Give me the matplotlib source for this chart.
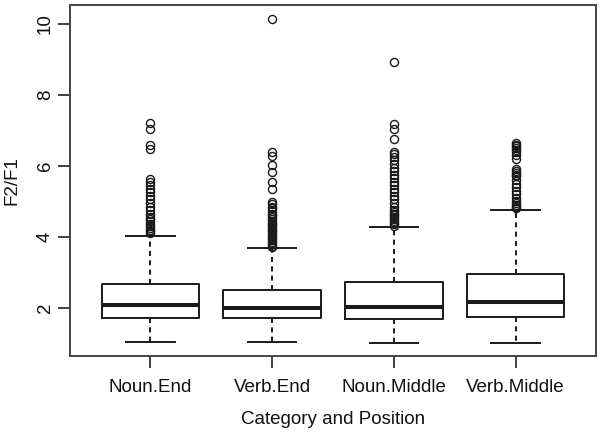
import matplotlib
matplotlib.use("Agg")
import matplotlib.pyplot as plt

plt.rcParams['font.family'] = ['Liberation Sans', 'DejaVu Sans']

categories = ["Noun.End", "Verb.End", "Noun.Middle", "Verb.Middle"]
q1 = [1.72, 1.72, 1.68, 1.74]
medians = [2.06, 2.00, 2.03, 2.15]
q3 = [2.66, 2.49, 2.72, 2.94]
whisker_low = [1.02, 1.04, 1.01, 1.01]
whisker_high = [4.03, 3.69, 4.26, 4.75]

outliers_noun_end = [7.21, 7.05, 6.58, 6.46, 5.62, 5.55, 5.45, 5.35, 5.25, 5.15, 5.05,
                     4.95, 4.85, 4.75, 4.65, 4.55, 4.50, 4.45, 4.35, 4.30, 4.25,
                     4.20, 4.15, 4.10]
outliers_verb_end = [10.15, 6.38, 6.28, 6.02, 5.82, 5.55, 5.35, 4.98, 4.92, 4.85,
                     4.80, 4.72, 4.65, 4.60, 4.55, 4.50, 4.45, 4.40, 4.35, 4.30,
                     4.25, 4.20, 4.15, 4.10, 4.05, 4.00, 3.95, 3.90, 3.85, 3.80,
                     3.75, 3.72]
outliers_noun_middle = [8.94, 7.19, 7.05, 6.75, 6.38, 6.32, 6.25, 6.15, 6.05, 5.95,
                        5.85, 5.75, 5.65, 5.55, 5.45, 5.35, 5.25, 5.15, 5.05, 4.95,
                        4.85, 4.75, 4.70, 4.65, 4.60, 4.55, 4.50, 4.45, 4.40, 4.35,
                        4.30]
outliers_verb_middle = [6.65, 6.60, 6.55, 6.50, 6.45, 6.40, 6.30, 6.20, 5.90, 5.85,
                        5.80, 5.75, 5.70, 5.60, 5.50, 5.40, 5.30, 5.20, 5.10, 5.00,
                        4.95, 4.90, 4.85, 4.80]
outliers = [outliers_noun_end, outliers_verb_end, outliers_noun_middle, outliers_verb_middle]

yticks = [2, 4, 6, 8, 10]

stats = []
for i, name in enumerate(categories):
    stats.append(dict(label=name, q1=q1[i], med=medians[i], q3=q3[i],
                      whislo=whisker_low[i], whishi=whisker_high[i],
                      fliers=outliers[i]))

fig = plt.figure(figsize=(6.02, 4.34), dpi=100)
ax = fig.add_axes([70/602, 1 - 356/434, 526/602, 351/434])

lc = '#1a1a1a'
ax.bxp(stats, positions=[1, 2, 3, 4], widths=0.8, showfliers=True,
       boxprops=dict(color=lc, linewidth=1.4),
       medianprops=dict(color=lc, linewidth=2.9, solid_capstyle='butt'),
       whiskerprops=dict(color=lc, linewidth=1.4, linestyle=(0, (2.6, 2.2))),
       capprops=dict(color=lc, linewidth=1.4),
       flierprops=dict(marker='o', markersize=5.8, markerfacecolor='none',
                       markeredgecolor=lc, markeredgewidth=1.0, linestyle='none'))

ax.set_xlim(0.34, 4.66)
ax.set_ylim(0.635, 10.535)
ax.set_xticks([1, 2, 3, 4])
ax.set_xticklabels(categories, fontsize=13.5, color='#111111')
ax.set_yticks(yticks)
ax.set_yticklabels([str(t) for t in yticks], fontsize=13.5, color='#111111',
                   rotation=90, va='center')
ax.tick_params(axis='both', length=8.5, width=1.3, color='#333333')
ax.tick_params(axis='x', pad=8)
ax.tick_params(axis='y', pad=3)
for s in ax.spines.values():
    s.set_linewidth(1.4)
    s.set_color('#444444')

ax.set_xlabel("Category and Position", fontsize=13.5, color='#111111', labelpad=11)
ax.set_ylabel("F2/F1", fontsize=13.5, color='#111111', labelpad=12)

fig.savefig("out.png", dpi=100)
